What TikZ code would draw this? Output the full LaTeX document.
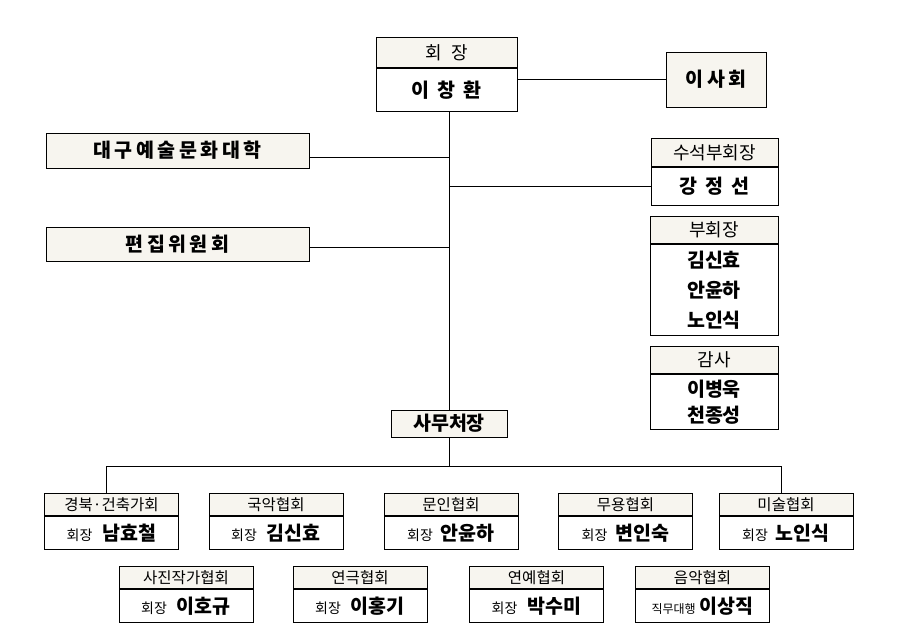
\documentclass[tikz,border=0pt]{standalone}
\usepackage{fontspec}
\setmainfont{Noto Sans CJK KR}
\newfontfamily\spfont[LetterSpace=18]{Noto Sans CJK KR}
\usetikzlibrary{calc}
\definecolor{hdfill}{RGB}{247,245,239}
\def\hdtxt{\fontsize{18}{20}\selectfont}
\def\grtxt{\fontsize{15.5}{18}\selectfont}
\def\nmtxt{\fontsize{19.5}{26}\selectfont\bfseries}
\def\smtxt{\fontsize{14}{16}\selectfont\mdseries}
\def\tnytxt{\fontsize{12}{14}\selectfont\mdseries}

\begin{document}
\begin{tikzpicture}[x=1pt, y=-1pt,
		box/.style={draw, line width=0.95pt, inner sep=0pt, anchor=north},
		head/.style={box, fill=hdfill, minimum width=#1, minimum height=28pt, font=\hdtxt},
		body/.style={box, fill=white, minimum width=#1, font=\nmtxt, align=center},
		ghead/.style={box, fill=hdfill, minimum width=134pt, minimum height=22pt, font=\grtxt},
		gbody/.style={box, fill=white, minimum width=134pt, minimum height=33pt, font=\nmtxt},
		solo/.style={draw, line width=0.95pt, fill=hdfill, inner sep=0pt, font=\nmtxt},
		link/.style={line width=0.95pt}]
			%%%%% START %%%%%
			
			\useasboundingbox (0,0) rectangle (904,638);
			
			\node[head=141pt, minimum height=30pt] (hzh) at (446.5,37) {회\enspace 장};
			\node[body=141pt, minimum height=43pt] (hz) at (hzh.south) {\spfont 이 창 환};
			
			\node[solo, minimum width=100pt, minimum height=55pt] (isa) at (716,79.5) {\spfont 이사회};
			
			\node[solo, minimum width=263pt, minimum height=35pt] (dg) at (177.5,150.5) {\spfont 대구예술문화대학};
			\node[solo, minimum width=263pt, minimum height=34pt] (pj) at (177.5,244) {\spfont 편집위원회};
			
			\node[head=127pt] (ssbh) at (714.5,138) {수석부회장};
			\node[body=127pt, minimum height=38pt] (ssb) at (ssbh.south) {\spfont 강 정 선};
			
			\node[head=128pt, minimum height=27pt] (bhh) at (714,216) {부회장};
			\node[body=128pt, minimum height=91pt] (bh) at (bhh.south) {김신효\\[4pt]안윤하\\[4pt]노인식};
			
			\node[head=128pt, minimum height=27pt] (gsh) at (714,346) {감사};
			\node[body=128pt, minimum height=55pt] (gs) at (gsh.south) {이병욱\\천종성};
			
			\node[solo, minimum width=116pt, minimum height=27pt] (sm) at (449,423.5) {사무처장};
			
			% first row
			\node[ghead] (gbh) at (111.5,493) {경북·건축가회};
			\node[gbody] (gb) at (gbh.south) {{\smtxt 회장}\hspace{10pt}남효철};
			\node[ghead] (gah) at (276,493) {국악협회};
			\node[gbody] (ga) at (gah.south) {{\smtxt 회장}\hspace{10pt}김신효};
			\node[ghead] (mih) at (451,493) {문인협회};
			\node[gbody] (mi) at (mih.south) {{\smtxt 회장}\hspace{8pt}안윤하};
			\node[ghead] (myh) at (625.5,493) {무용협회};
			\node[gbody] (my) at (myh.south) {{\smtxt 회장}\hspace{8pt}변인숙};
			\node[ghead] (msh) at (786,493) {미술협회};
			\node[gbody] (ms) at (msh.south) {{\smtxt 회장}\hspace{8pt}노인식};
			
			% second row
			\node[ghead] (sjh) at (186,566) {사진작가협회};
			\node[gbody] (sj) at (sjh.south) {{\smtxt 회장}\hspace{10pt}이호규};
			\node[ghead] (ygh) at (360,566) {연극협회};
			\node[gbody] (yg) at (ygh.south) {{\smtxt 회장}\hspace{10pt}이홍기};
			\node[ghead] (yyh) at (536.5,566) {연예협회};
			\node[gbody] (yy) at (yyh.south) {{\smtxt 회장}\hspace{10pt}박수미};
			\node[ghead] (uah) at (702.5,566) {음악협회};
			\node[gbody] (ua) at (uah.south) {{\tnytxt 직무대행}\hspace{4pt}이상직};
			
			% lines
			\draw[link] (hz.east |- isa.west) -- (isa.west);
			\draw[link] (hz.south -| sm.north) -- (sm.north);
			\draw[link] ([yshift=-7pt]dg.east) -- ([yshift=-7pt]dg.east -| sm.north);
			\draw[link] ([yshift=-3pt]pj.east) -- ([yshift=-3pt]pj.east -| sm.north);
			\draw[link] (ssb.west -| sm.north) -- (ssb.west);
			
			\coordinate (busL) at (106,466);
			\coordinate (busR) at (781,466);
			\draw[link] (sm.south) -- (sm.south |- busL);
			\draw[link] (gbh.north -| busL) -- (busL) -- (busR) -- (busR |- msh.north);
			
			%%%%% END %%%%%
		\end{tikzpicture}
\end{document}
